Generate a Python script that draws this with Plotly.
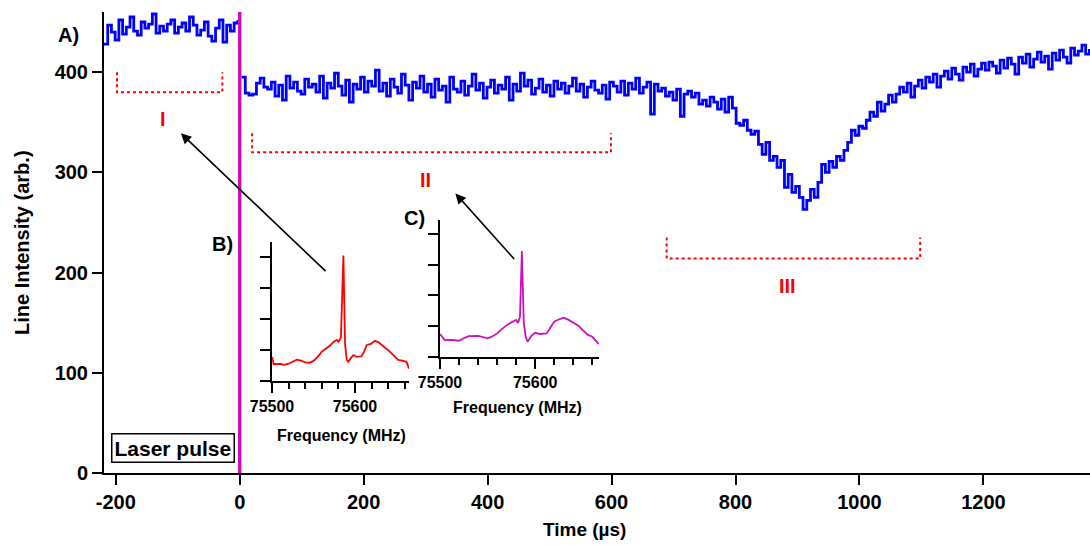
import plotly.graph_objects as go

# ---------------- data ----------------
T0_PRE = -219.0      # first sample time (µs)
T0_POST = 3.0        # first sample after the laser pulse (µs)
DT = 6.0             # sampling step (µs)

pre_pulse = [428, 447, 440, 432, 452, 438, 445, 455, 441, 437, 450, 444, 448, 458, 439, 446,
             441, 448, 452, 439, 445, 449, 441, 455, 447, 437, 442, 450, 436, 431, 444, 452,
             430, 447, 441, 449, 452]

post_pulse = [
    # 3 .. 297
    395, 379, 377, 378, 389, 394, 385, 383, 390, 376, 387, 372, 396, 384, 390, 381, 378, 393,
    385, 388, 380, 396, 374, 389, 384, 399, 386, 377, 392, 370, 388, 383, 395, 380, 391, 386,
    402, 381, 389, 376, 393, 385, 379, 398, 387, 372, 390, 384, 396, 380,
    # 303 .. 597
    388, 375, 393, 382, 386, 370, 395, 383, 380, 391, 377, 386, 398, 382, 389, 374, 385, 392,
    379, 387, 383, 395, 372, 388, 381, 399, 386, 392, 378, 384, 393, 380, 387, 376, 391, 383,
    389, 379, 386, 394, 381, 388, 375, 385, 391, 382, 379, 387, 373, 390,
    # 603 .. 747
    386, 380, 391, 377, 389, 383, 394, 379, 385, 390, 358, 388, 381, 384, 376, 380, 372, 383,
    356, 378, 381, 375, 379, 368, 372,
    # 753 .. 897
    366, 375, 370, 363, 373, 360, 375, 364, 349, 347, 352, 342, 338, 341, 328, 318, 330, 312,
    316, 305, 312, 285, 298, 280, 286,
    # 903 .. 1047
    275, 263, 272, 283, 275, 290, 308, 300, 311, 305, 316, 312, 322, 330, 342, 337, 346, 344,
    352, 360, 356, 370, 361, 368, 377,
    # 1053 .. 1197
    370, 378, 385, 380, 389, 375, 386, 392, 384, 395, 390, 398, 385, 396, 401, 393, 404, 398,
    392, 405, 400, 408, 396, 403, 409,
    # 1203 .. 1371
    402, 410, 406, 399, 412, 404, 414, 408, 398, 415, 409, 418, 405, 413, 420, 410, 416, 403,
    419, 412, 422, 415, 409, 424, 417, 421, 427, 418, 423,
]

time_pre = [T0_PRE + DT * i for i in range(len(pre_pulse))]
time_post = [T0_POST + DT * i for i in range(len(post_pulse))]

# inset spectra (intensity in tick units)
freq_B = [75500, 75502, 75510, 75515, 75520, 75525, 75530, 75535, 75540, 75545, 75550, 75555,
          75560, 75565, 75570, 75575, 75578, 75580, 75583, 75586, 75588, 75590, 75592, 75595,
          75598, 75602, 75608, 75611, 75614, 75619, 75624, 75628, 75632, 75637, 75642, 75647,
          75652, 75657, 75662, 75665]
int_B = [0.78, 0.55, 0.55, 0.52, 0.56, 0.62, 0.69, 0.66, 0.60, 0.59, 0.65, 0.78,
         0.95, 1.05, 1.15, 1.28, 1.33, 1.27, 1.40, 4.06, 1.20, 0.68, 0.62, 0.74,
         0.84, 0.78, 0.80, 0.95, 1.16, 1.20, 1.30, 1.26, 1.16, 1.06, 0.95, 0.82,
         0.68, 0.66, 0.62, 0.40]

freq_C = [75500, 75505, 75512, 75520, 75525, 75530, 75540, 75545, 75550, 75555, 75560, 75565,
          75570, 75575, 75580, 75582, 75584, 75586, 75588, 75590, 75592, 75596, 75600, 75605,
          75612, 75616, 75620, 75625, 75630, 75635, 75640, 75645, 75650, 75655, 75660, 75667]
int_C = [0.74, 0.54, 0.55, 0.52, 0.60, 0.67, 0.68, 0.64, 0.60, 0.66, 0.76, 0.90,
         1.03, 1.12, 1.20, 1.10, 1.30, 3.45, 1.10, 0.65, 0.49, 0.68, 0.78, 0.74,
         0.76, 0.95, 1.14, 1.22, 1.27, 1.20, 1.10, 1.02, 0.87, 0.72, 0.65, 0.41]

x_ticks = [-200, 0, 200, 400, 600, 800, 1000, 1200]
x_ticktext = ["-200", "0", "200", "400", "600", "800", "1000", "1200"]
y_ticks = [0, 100, 200, 300, 400]
inset_x_ticks = [75500, 75600]
inset_x_ticktext = ["75500", "75600"]
inset_y_ticks = [0, 1, 2, 3, 4]

# brackets: (t_start, t_end, y_top, y_bottom), labels
brackets = [(-198, -28, 400, 380), (20, 599, 339, 320), (689, 1098, 235, 214)]
region_labels = ["I", "II", "III"]
region_label_pos = [(-124, 353), (300, 292), (884, 187)]

# arrows: (head_t, head_y, tail_t, tail_y)
arrows = [(-95, 339, 141, 200), (348, 279, 445, 212)]

BLUE = "#0000FF"
MAG = "#CC11BB"
RED = "#FF0000"
FONT = "Liberation Sans, Arial, sans-serif"

fig = go.Figure()

fig.add_trace(go.Scatter(x=time_pre, y=pre_pulse, mode="lines", line=dict(color=BLUE, width=2.8, shape="hv"),
                         showlegend=False))
fig.add_trace(go.Scatter(x=time_post, y=post_pulse, mode="lines", line=dict(color=BLUE, width=2.8, shape="hv"),
                         showlegend=False))
fig.add_trace(go.Scatter(x=freq_B, y=int_B, mode="lines", line=dict(color=RED, width=1.8),
                         xaxis="x2", yaxis="y2", showlegend=False))
fig.add_trace(go.Scatter(x=freq_C, y=int_C, mode="lines", line=dict(color=MAG, width=1.8),
                         xaxis="x3", yaxis="y3", showlegend=False))

# laser pulse line
fig.add_shape(type="line", x0=0, x1=0, y0=0, y1=460, xref="x", yref="y",
              line=dict(color=MAG, width=3.5))

for (a, b, top, bot) in brackets:
    fig.add_shape(type="path", xref="x", yref="y",
                  path=f"M {a},{top} L {a},{bot} L {b},{bot} L {b},{top}",
                  line=dict(color=RED, width=2, dash="dot"))

for lab, (lx, ly) in zip(region_labels, region_label_pos):
    fig.add_annotation(x=lx, y=ly, xref="x", yref="y", text=lab, showarrow=False,
                       xanchor="center", yanchor="middle",
                       font=dict(family=FONT, size=20, color=RED, weight="bold"))

for (hx, hy, tx, ty) in arrows:
    fig.add_annotation(x=hx, y=hy, ax=tx, ay=ty, xref="x", yref="y", axref="x", ayref="y",
                       text="", showarrow=True, arrowhead=2, arrowsize=1.3, arrowwidth=1.6,
                       arrowcolor="black")

# text labels in paper coordinates: (text, x, y, size, angle)
paper_texts = [
    ("A)", -0.0365, 0.950, 20, 0),
    ("B)", 0.1197, 0.4967, 20, 0),
    ("C)", 0.3154, 0.553, 20, 0),
    ("Frequency (MHz)", 0.2404, 0.0824, 16, 0),
    ("Frequency (MHz)", 0.4189, 0.141, 16, 0),
    ("Time (µs)", 0.4878, -0.1236, 19, 0),
    ("Line Intensity (arb.)", -0.0832, 0.499, 20, -90),
]
for txt, px, py, sz, ang in paper_texts:
    fig.add_annotation(x=px, y=py, xref="paper", yref="paper", text=txt, showarrow=False,
                       xanchor="center", yanchor="middle", textangle=ang,
                       font=dict(family=FONT, size=sz, color="black", weight="bold"))

fig.add_annotation(x=0.0700, y=0.0553, xref="paper", yref="paper", text="Laser pulse",
                   showarrow=False, xanchor="center", yanchor="middle",
                   bordercolor="black", borderwidth=1.5, borderpad=2,
                   bgcolor="white",
                   font=dict(family=FONT, size=21, color="black", weight="bold"))

axis_common = dict(showgrid=False, zeroline=False, showline=True, linecolor="black", linewidth=2,
                   ticks="outside", tickcolor="black", tickwidth=2, automargin=False)

fig.update_layout(
    width=1090, height=545,
    margin=dict(l=104, r=0, t=12, b=72),
    paper_bgcolor="white", plot_bgcolor="white",
    font=dict(family=FONT, color="black"),
    xaxis=dict(**axis_common, range=[-219, 1372], tickvals=x_ticks, ticktext=x_ticktext, ticklen=10,
               tickfont=dict(size=20, weight="bold")),
    yaxis=dict(**axis_common, range=[0, 460], tickvals=y_ticks, ticklen=10,
               tickfont=dict(size=20, weight="bold")),
    xaxis2=dict(**axis_common, domain=[0.1704, 0.3093], anchor="y2", range=[75500, 75665],
                tickvals=inset_x_ticks, ticktext=inset_x_ticktext, ticklen=10,
                minor=dict(dtick=20, tick0=75500, ticklen=6, ticks="outside", tickcolor="black", tickwidth=2),
                tickfont=dict(size=16, weight="bold")),
    yaxis2=dict(**axis_common, domain=[0.1996, 0.501], anchor="x2", range=[0, 4.5],
                tickvals=inset_y_ticks, ticklen=10, showticklabels=False),
    xaxis3=dict(**axis_common, domain=[0.3408, 0.502], anchor="y3", range=[75500, 75667],
                tickvals=inset_x_ticks, ticktext=inset_x_ticktext, ticklen=10,
                minor=dict(dtick=20, tick0=75500, ticklen=6, ticks="outside", tickcolor="black", tickwidth=2),
                tickfont=dict(size=16, weight="bold")),
    yaxis3=dict(**axis_common, domain=[0.2523, 0.5488], anchor="x3", range=[0, 4.46],
                tickvals=inset_y_ticks, ticklen=10, showticklabels=False),
)

fig.write_html("out.html", config={"displayModeBar": False},
               post_script="document.body.style.margin='0';")
